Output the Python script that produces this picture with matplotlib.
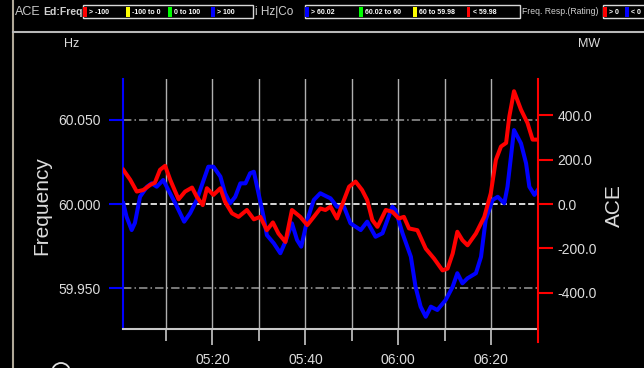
import matplotlib.pyplot as plt
from matplotlib.patches import Rectangle, Ellipse
from matplotlib.lines import Line2D

plt.rcParams['font.family'] = ['Liberation Sans', 'DejaVu Sans']

# Frequency trace (minutes after 05:00, Hz)
freq_min = [0.8, 1.5, 2.6, 3.3, 4.4, 5.9, 6.9, 8.0, 9.4, 10.5, 12.0, 13.9, 15.2,
            16.6, 18.1, 19.1, 20.2, 21.7, 22.7, 23.8, 24.9, 26.0, 27.1, 28.1, 28.9,
            29.9, 31.0, 31.7, 33.2, 34.6, 35.7, 37.1, 38.2, 39.1, 40.4, 41.8, 43.2,
            44.7, 45.4, 46.8, 48.3, 49.7, 51.9, 53.3, 55.1, 56.6, 58.7, 59.4, 60.9,
            62.7, 63.7, 64.8, 65.9, 67.0, 68.4, 70.2, 71.7, 72.7, 73.8, 74.9, 76.7,
            77.8, 78.8, 80.3, 81.4, 82.8, 83.5, 84.9, 86.4, 87.5, 88.2, 89.3, 90.0]
freq_hz = [60.0004, 59.9924, 59.9845, 59.9887, 60.0043, 60.0103, 60.0123, 60.0103,
           60.0143, 60.0083, 60.0004, 59.9895, 59.9946, 60.0024, 60.0143, 60.0222,
           60.0222, 60.0163, 60.0064, 60.0004, 60.0043, 60.0123, 60.0123, 60.0183,
           60.0192, 60.0064, 59.9924, 59.9815, 59.9766, 59.9707, 59.9776, 59.9885,
           59.9786, 59.9746, 59.9905, 60.0024, 60.0064, 60.0043, 60.0034, 59.9984,
           59.9984, 59.9885, 59.9845, 59.9895, 59.9805, 59.9826, 59.9984, 59.9964,
           59.9826, 59.9686, 59.9508, 59.9389, 59.9329, 59.9389, 59.9369, 59.9429,
           59.9508, 59.9588, 59.9528, 59.9558, 59.9588, 59.9686, 59.9905, 60.0024,
           60.0043, 60.0004, 60.0103, 60.0440, 60.0361, 60.0242, 60.0103, 60.0054,
           60.0083]

# ACE trace (minutes after 05:00, MW)
ace_min = [0.8, 2.3, 3.7, 5.1, 6.6, 7.6, 8.7, 9.8, 10.9, 12.7, 14.1, 15.6, 16.6,
           17.9, 18.8, 20.2, 21.7, 22.7, 24.2, 25.6, 27.4, 28.9, 30.3, 31.7, 33.0,
           34.2, 35.7, 37.1, 38.9, 40.4, 41.8, 43.2, 44.3, 45.4, 46.8, 48.3, 49.4,
           50.8, 52.2, 53.3, 54.4, 55.5, 57.3, 58.7, 60.1, 61.2, 62.3, 64.1, 65.9,
           67.7, 69.5, 70.6, 71.7, 72.7, 73.8, 74.9, 76.7, 78.5, 79.9, 81.0, 82.1,
           83.2, 83.9, 84.9, 86.4, 87.8, 88.9, 90.0]
ace_mw = [154, 109, 56, 63, 86, 96, 154, 172, 109, 21, 56, 74, 33, -5, 71, 41, 71,
          10, -42, -58, -27, -69, -58, -118, -83, -133, -171, -27, -58, -95, -58,
          -20, -27, -12, -65, 18, 78, 101, 63, 18, -72, -103, -27, -35, -65, -58,
          -110, -118, -201, -246, -299, -291, -223, -125, -163, -186, -133, -58, 48,
          199, 259, 275, 395, 508, 425, 365, 290, 290]

hz_ticks = [59.95, 60.0, 60.05]
mw_ticks = [-400, -200, 0, 200, 400]
label_minutes = [20, 40, 60, 80]
time_labels = ['05:20', '05:40', '06:00', '06:20']
minor_minutes = [10, 30, 50, 70, 90]

W, H = 644, 368


def fx(x):
    return x / W


def fy(y):
    return 1 - y / H


fig = plt.figure(figsize=(W / 100, H / 100), dpi=100, facecolor='black')

ax = fig.add_axes([fx(123.3), fy(329), fx(537.7) - fx(123.3), fy(79) - fy(329)])
ax.set_facecolor('black')
ax2 = ax.twinx()

ax.plot(freq_min, freq_hz, color='#0000ff', lw=2.9, solid_joinstyle='round', zorder=3)
ax2.plot(ace_min, ace_mw, color='#ff0000', lw=2.9, solid_joinstyle='round', zorder=3)

ax.set_xlim(0.8, 90)
ax.set_ylim(59.9256, 60.0744)
ax2.set_ylim(-563, 563)

# grid
ax.set_xticks(label_minutes)
ax.set_xticklabels(time_labels)
ax.set_xticks(minor_minutes, minor=True)
ax.xaxis.grid(True, which='both', color='#b0b0b0', lw=1.0, zorder=1)
for v in hz_ticks:
    if v == 60.0:
        ax.axhline(v, color='#e8e8e8', lw=1.3, ls=(0, (3.5, 1.6)), zorder=1)
    else:
        ax.axhline(v, color='#9a9a9a', lw=1.1, ls=(0, (5.5, 2, 1, 2)), zorder=1)

ax.set_yticks(hz_ticks)
ax.set_yticklabels([f'{v:.3f}' for v in hz_ticks])
ax2.set_yticks(mw_ticks)
ax2.set_yticklabels([f'{v:.1f}' for v in mw_ticks])

lbl = '#dcdcdc'
ax.tick_params(axis='x', which='major', length=11.5, width=1.2, color='#c8c8c8',
               labelcolor=lbl, labelsize=10, pad=5.8)
ax.tick_params(axis='x', which='minor', length=8.5, width=1.2, color='#c8c8c8')
ax.tick_params(axis='y', length=10, width=1.5, color='#0000ff', labelcolor=lbl,
               labelsize=10, pad=6.5)
ax2.tick_params(axis='y', length=10.8, width=1.5, color='#ff0000', labelcolor=lbl,
                labelsize=10, pad=3.4)

for s in ['top', 'right']:
    ax.spines[s].set_visible(False)
ax.spines['left'].set_color('#0000ff')
ax.spines['left'].set_linewidth(1.5)
ax.spines['bottom'].set_color('#c8c8c8')
ax.spines['bottom'].set_linewidth(1.5)
for s in ['top', 'left', 'bottom']:
    ax2.spines[s].set_visible(False)
ax2.spines['right'].set_color('#ff0000')
ax2.spines['right'].set_linewidth(1.5)
ax2.spines['right'].set_bounds(-563 - 12.5 * 200 / 44.4, 563)

# axis titles
fig.text(fx(42), fy(206), 'Frequency', rotation=90, color=lbl, fontsize=15,
         ha='center', va='center')
fig.text(fx(614), fy(206), 'ACE', rotation=90, color=lbl, fontsize=15,
         ha='center', va='center')
fig.text(fx(72), fy(44), 'Hz', color=lbl, fontsize=9, ha='center', va='center')
fig.text(fx(589), fy(44), 'MW', color=lbl, fontsize=9, ha='center', va='center')

# window frame
fig.add_artist(Line2D([fx(13), fx(13)], [0, 1], color='#b0a898', lw=1.5))
fig.add_artist(Line2D([fx(13), 1], [fy(31.5), fy(31.5)], color='#b8b8b8', lw=1.5))
fig.add_artist(Ellipse((fx(61), fy(372)), 18 / W, 18 / H, fill=False,
                       ec='#e0e0e0', lw=1.3))

# colour key strip
fig.text(fx(15), fy(12), 'ACE', color='#c8c8c8', fontsize=9, va='center')
fig.text(fx(43), fy(12), 'Ed:Freq', color='#d0d0d0', fontsize=7.5,
         fontweight='bold', va='center')
fig.text(fx(255), fy(12), 'i Hz|Co', color='#d0d0d0', fontsize=8.5, va='center')
fig.text(fx(522), fy(12), 'Freq. Resp.(Rating)', color='#d0d0d0', fontsize=6.2,
         va='center')

boxes = [(83, 253), (305, 520), (603, 660)]
for x0, x1 in boxes:
    fig.add_artist(Rectangle((fx(x0), fy(18)), (x1 - x0) / W, 13 / H, fill=False,
                             ec='#d8d8d8', lw=1.0))

key_items = [(83, '#ff0000', '> -100'), (126, '#ffff00', '-100 to 0'),
             (168, '#00ff00', '0 to 100'), (211, '#0000ff', '> 100'),
             (305, '#0000ff', '> 60.02'), (359, '#00ff00', '60.02 to 60'),
             (413, '#ffff00', '60 to 59.98'), (467, '#ff0000', '< 59.98'),
             (603, '#ff0000', '> 0'), (625, '#0000ff', '< 0')]
for x, c, t in key_items:
    fig.add_artist(Rectangle((fx(x), fy(17)), 3.5 / W, 10 / H, color=c, lw=0))
    fig.text(fx(x + 6), fy(12), t, color='white', fontsize=5, fontweight='bold',
             va='center')

fig.savefig('out.png', dpi=100, facecolor='black')
